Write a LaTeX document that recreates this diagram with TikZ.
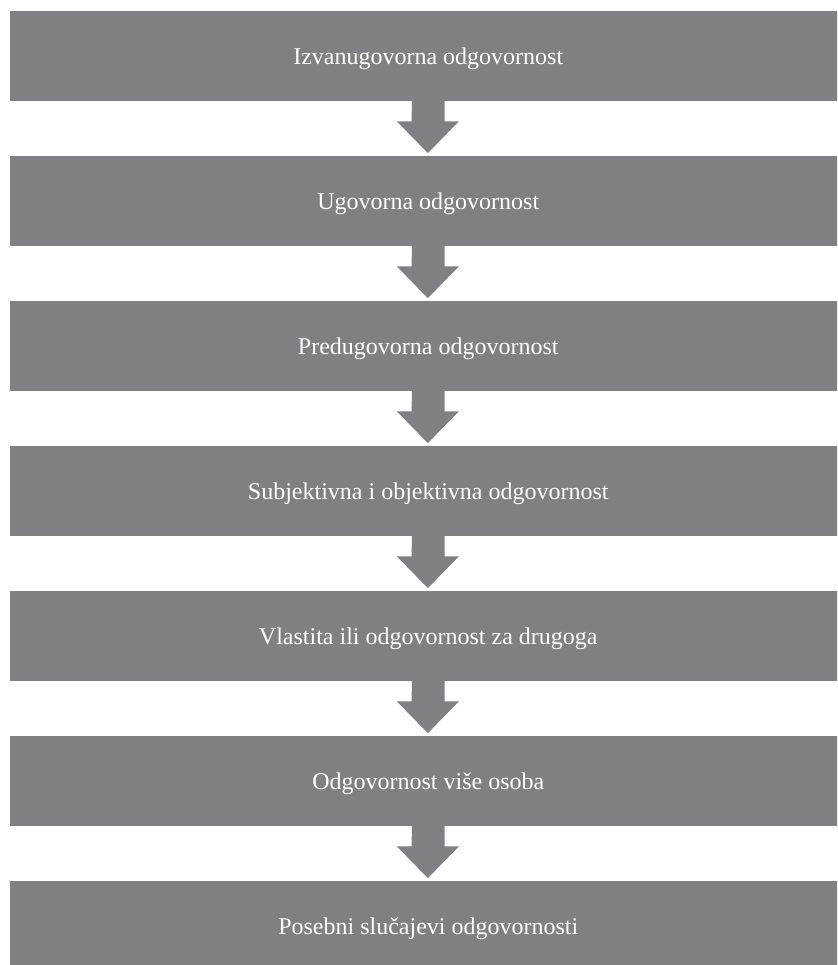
\documentclass[tikz,border=0pt]{standalone}
\usepackage{fontspec}
\setmainfont{Liberation Serif}
\usetikzlibrary{calc}
\definecolor{boxgray}{RGB}{128,128,132}
\tikzset{
  stagebox/.style={fill=boxgray, draw=none, minimum width=837.5pt, minimum height=89.7pt,
    inner sep=0pt, text=white, text height=19pt, text depth=3pt,
    font=\fontsize{24}{28}\selectfont},
  downarrow/.style={fill=boxgray, draw=none}
}
\newcommand{\blockarrow}[1]{%
  \fill[downarrow] ($(#1.south)+(-16.3,0.5)$) -- ++(32.6,0) -- ++(0,-20.5) -- ++(14.3,0)
    -- ++(-31,-31.7) -- ++(-31,31.7) -- ++(14.7,0) -- cycle;}
\begin{document}
\begin{tikzpicture}[x=1pt,y=1pt]
\useasboundingbox (0,0) rectangle (837,965);
\clip (0,0) rectangle (837,965);
\fill[white] (0,0) rectangle (837,965);
\node[stagebox] (b1) at (428.25,{965-56.35}) {Izvanugovorna odgovornost};
\node[stagebox] (b2) at (428.25,{965-56.35-145}) {Ugovorna odgovornost};
\node[stagebox] (b3) at (428.25,{965-56.35-290}) {Predugovorna odgovornost};
\node[stagebox] (b4) at (428.25,{965-56.35-435}) {Subjektivna i objektivna odgovornost};
\node[stagebox] (b5) at (428.25,{965-56.35-580}) {Vlastita ili odgovornost za drugoga};
\node[stagebox] (b6) at (428.25,{965-56.35-725}) {Odgovornost više osoba};
\node[stagebox] (b7) at (428.25,{965-56.35-870}) {Posebni slučajevi odgovornosti};
\blockarrow{b1}
\blockarrow{b2}
\blockarrow{b3}
\blockarrow{b4}
\blockarrow{b5}
\blockarrow{b6}
\end{tikzpicture}
\end{document}
